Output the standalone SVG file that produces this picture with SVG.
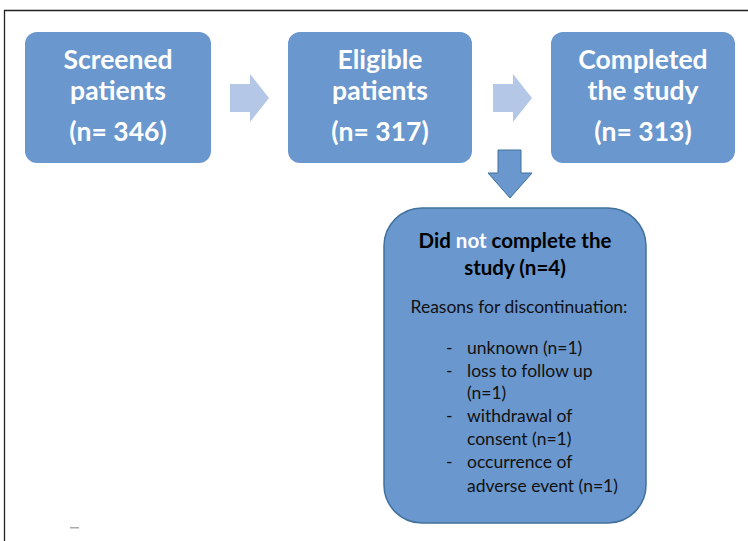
<svg xmlns="http://www.w3.org/2000/svg" width="748" height="541" viewBox="0 0 748 541">
<style>
.box{fill:#6a97cd;}
.big{font-family:Lato,"Open Sans",sans-serif;font-weight:bold;font-size:26.5px;fill:#ffffff;text-anchor:middle;}
.head{font-family:Lato,"Open Sans",sans-serif;font-weight:bold;font-size:20.5px;fill:#000000;text-anchor:middle;}
.reg{font-family:Lato,"Open Sans",sans-serif;font-size:17.5px;fill:#111111;}
.light{fill:#b4c7e7;}
</style>
<rect width="748" height="541" fill="#ffffff"/>
<path d="M4.5 541 V10.5 H748" fill="none" stroke="#222222" stroke-width="1.3"/>
<g id="connectors">
<polygon class="light" points="230,84 250,84 250,74 269,98 250,122 250,112 230,112"/>
<polygon class="light" points="493,84 513,84 513,74 532,98 513,122 513,112 493,112"/>
<polygon points="498,150 521,150 521,173 532,173 510,198 488,173 498,173" fill="#6a97cd" stroke="#41719c" stroke-width="1"/>
</g>
<g id="screened">
<rect class="box" x="25" y="32" width="186" height="131" rx="12"/>
<text class="big" x="118" y="69">Screened</text>
<text class="big" x="118" y="100">patients</text>
<text class="big" x="118" y="141">(n= 346)</text>
</g>
<g id="eligible">
<rect class="box" x="288" y="32" width="184" height="131" rx="12"/>
<text class="big" x="380" y="69">Eligible</text>
<text class="big" x="380" y="100">patients</text>
<text class="big" x="380" y="141">(n= 317)</text>
</g>
<g id="completed">
<rect class="box" x="551" y="32" width="184" height="131" rx="12"/>
<text class="big" x="643" y="69">Completed</text>
<text class="big" x="643" y="100">the study</text>
<text class="big" x="643" y="141">(n= 313)</text>
</g>
<g id="not-completed">
<rect x="384" y="208" width="262" height="315" rx="38" fill="#6a97cd" stroke="#41719c" stroke-width="1.5"/>
<text class="head" x="515" y="248">Did <tspan fill="#ffffff">not</tspan> complete the</text>
<text class="head" x="515" y="275">study (n=4)</text>
<text class="reg" x="519" y="313" text-anchor="middle">Reasons for discontinuation:</text>
<text class="reg" x="446" y="354">-</text>
<text class="reg" x="467" y="354">unknown (n=1)</text>
<text class="reg" x="446" y="377">-</text>
<text class="reg" x="467" y="377">loss to follow up</text>
<text class="reg" x="467" y="399">(n=1)</text>
<text class="reg" x="446" y="422">-</text>
<text class="reg" x="467" y="422">withdrawal of</text>
<text class="reg" x="467" y="445">consent (n=1)</text>
<text class="reg" x="446" y="468">-</text>
<text class="reg" x="467" y="468">occurrence of</text>
<text class="reg" x="467" y="492">adverse event (n=1)</text>
</g>
<rect x="70" y="527" width="9" height="1.5" fill="#aaaaaa"/>
</svg>
